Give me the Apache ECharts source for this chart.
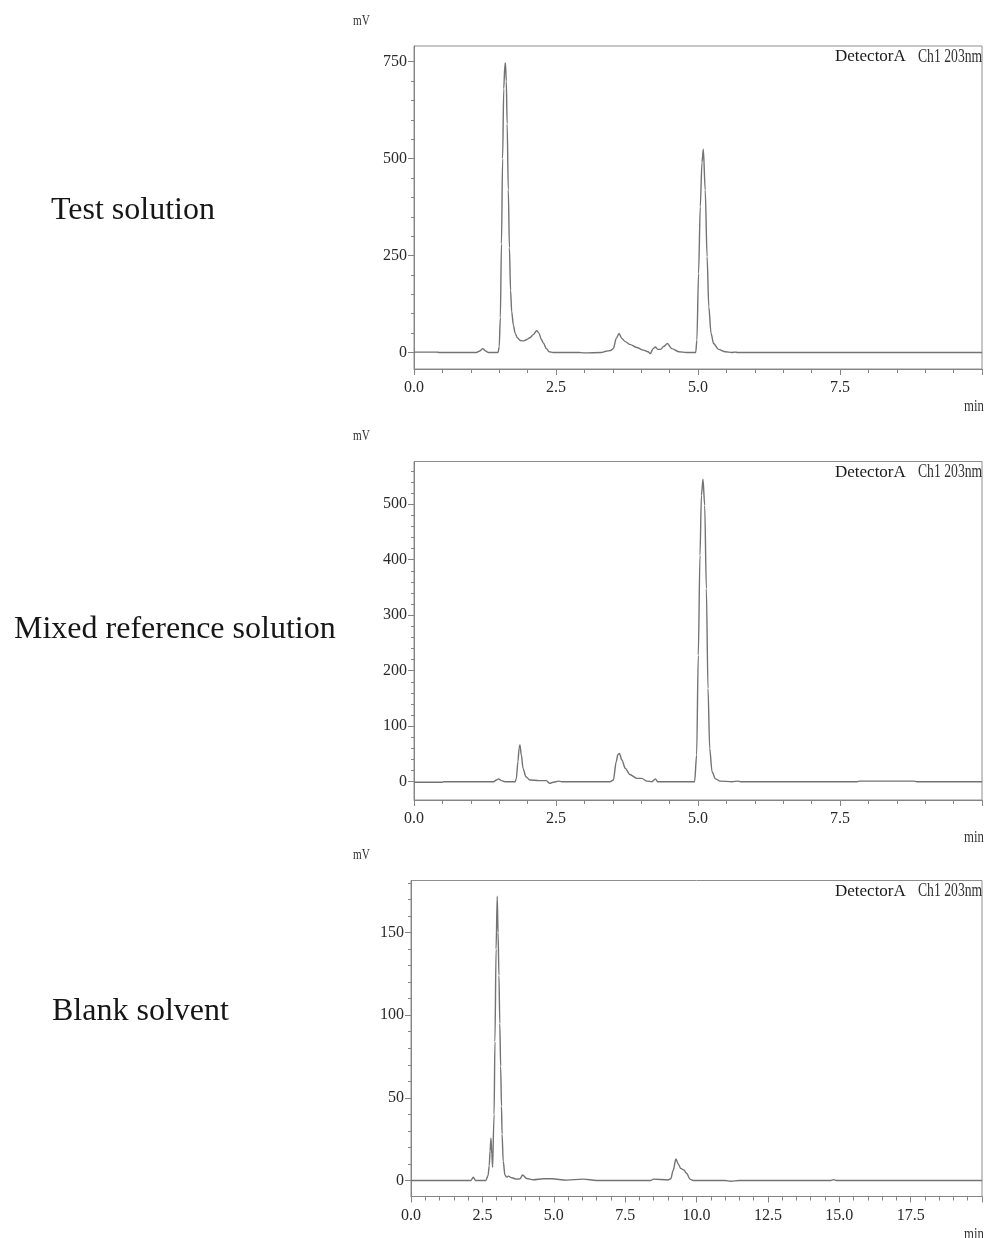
<!DOCTYPE html>
<html>
<head>
<meta charset="utf-8">
<script src="https://cdn.jsdelivr.net/npm/echarts@6/dist/echarts.min.js"></script>
<style>
  html, body { margin: 0; padding: 0; background: #fff; }
  #chart { width: 986px; height: 1238px; }
</style>
</head>
<body>
<div id="chart"></div>
<script>
// panel titles
var panelNames = ['Test solution', 'Mixed reference solution', 'Blank solvent'];

// chromatograms: [time (min), signal (mV)]
var testSolution = [
  [0, 1], [0.4, 1], [0.45, 0], [1.1, 0], [1.16, 4], [1.21, 10], [1.26, 4], [1.31, 0], [1.4, 0],
  [1.48, 0], [1.50, 15], [1.52, 90], [1.54, 280], [1.56, 500], [1.58, 680], [1.60, 742], [1.61, 747],
  [1.625, 700], [1.64, 590], [1.66, 420], [1.68, 270], [1.70, 160], [1.72, 105], [1.75, 70],
  [1.78, 50], [1.82, 38], [1.87, 31], [1.92, 30], [1.98, 33], [2.04, 38], [2.10, 46], [2.16, 56],
  [2.20, 50], [2.24, 34], [2.28, 24], [2.33, 10], [2.38, 2], [2.45, 0], [2.9, 0], [3.0, -1],
  [3.3, 0], [3.38, 3], [3.46, 5], [3.51, 10], [3.56, 36], [3.61, 49], [3.66, 36], [3.72, 28],
  [3.80, 21], [3.92, 13], [4.04, 6], [4.12, 2], [4.16, -3], [4.21, 10], [4.25, 14], [4.29, 8],
  [4.34, 8], [4.40, 16], [4.46, 23], [4.54, 10], [4.66, 2], [4.80, 0],
  [4.96, 0], [4.98, 32], [5.01, 204], [5.04, 376], [5.07, 490], [5.094, 524], [5.127, 419],
  [5.16, 247], [5.19, 118], [5.23, 49], [5.275, 23], [5.36, 8], [5.48, 2], [5.6, 0], [5.65, 1],
  [5.7, 0], [10, 0]
];

var mixedReference = [
  [0, -1], [0.5, -1], [0.52, 0], [1.40, 0], [1.45, 3], [1.49, 5], [1.54, 2], [1.6, 0], [1.78, 0],
  [1.80, 5], [1.83, 36], [1.85, 60], [1.865, 66], [1.89, 48], [1.92, 24], [1.97, 9], [2.04, 3],
  [2.2, 2], [2.33, 2], [2.39, -3], [2.45, -1], [2.5, 0], [2.55, 1], [2.6, 0], [3.45, 0],
  [3.51, 3], [3.56, 36], [3.59, 49], [3.617, 51], [3.66, 39], [3.72, 24], [3.80, 13], [3.92, 6],
  [4.01, 6], [4.10, 1], [4.19, 0], [4.25, 5], [4.29, 0], [4.94, 0], [4.976, 48], [5.005, 228],
  [5.035, 408], [5.06, 516], [5.088, 545], [5.118, 498], [5.147, 348], [5.176, 168], [5.206, 60],
  [5.247, 18], [5.306, 5], [5.39, 1], [5.6, 0], [5.7, 1], [5.75, 0], [7.8, 0], [7.85, 1],
  [8.8, 1], [8.85, 0], [10, 0]
];

var blankSolvent = [
  [0, 0], [2.1, 0], [2.18, 2], [2.26, 0], [2.62, 0], [2.70, 3], [2.74, 9], [2.77, 18], [2.80, 25.5],
  [2.83, 16], [2.86, 8], [2.88, 7.8], [2.91, 40], [2.94, 84], [2.98, 140], [3.02, 172], [3.05, 150],
  [3.08, 124], [3.11, 95], [3.14, 69], [3.17, 45], [3.19, 28], [3.23, 11.6], [3.29, 3.3], [3.35, 2],
  [3.41, 2.6], [3.53, 1.6], [3.7, 0.8], [3.82, 1], [3.91, 3.3], [4.05, 1.2], [4.28, 0.4], [4.64, 1],
  [4.93, 1], [5.45, 0.2], [6.03, 0.8], [6.5, 0], [8.4, 0], [8.49, 0.8], [9.0, 0.3], [9.1, 1],
  [9.18, 6], [9.28, 13], [9.36, 10], [9.45, 7.3], [9.56, 6.3], [9.66, 4.2], [9.77, 0.8], [9.89, 0],
  [11.0, 0], [11.2, -0.5], [11.5, 0], [14.7, 0], [14.8, 0.5], [14.9, 0], [20, 0]
];

// y tick labels of each panel
var yTicks1 = [0, 250, 500, 750];
var yTicks2 = [0, 100, 200, 300, 400, 500];
var yTicks3 = [0, 50, 100, 150];

var traces = [testSolution, mixedReference, blankSolvent];
var yTicks = [yTicks1, yTicks2, yTicks3];
var yMinorStep = [50, 20, 10];
var yRange = [[-42.6, 790.5], [-33, 577], [-9.7, 181.5]];
var xMax = [10, 10, 20];
var grids = [
  { left: 414, top: 46, width: 568, height: 323 },
  { left: 414, top: 461.5, width: 568, height: 338.5 },
  { left: 411, top: 880.5, width: 571, height: 316 }
];
var titleY = [211, 630, 1012];
var titleX = [51, 14, 52];

var lineGray = '#858585';
var tickFont = '"Liberation Serif", serif';

function steps(from, to, step) {
  var out = [];
  for (var v = from; v <= to + 1e-9; v += step) out.push(Math.round(v * 100) / 100);
  return out;
}

var myChart = echarts.init(document.getElementById('chart'));

var option = {
  backgroundColor: '#fff',
  animation: false,
  grid: [],
  xAxis: [],
  yAxis: [],
  series: [],
  graphic: { elements: [] }
};

for (var i = 0; i < 3; i++) {
  var g = grids[i];
  option.grid.push({
    left: g.left, top: g.top, width: g.width, height: g.height,
    show: true, borderColor: '#8f8f8f', borderWidth: 1, backgroundColor: 'transparent',
    outerBoundsMode: 'none', containLabel: false
  });

  option.xAxis.push({
    gridIndex: i,
    type: 'value',
    min: 0,
    max: xMax[i],
    interval: 2.5,
    axisLine: { onZero: false, lineStyle: { color: lineGray, width: 1 } },
    axisTick: { show: true, length: 6, lineStyle: { color: lineGray } },
    minorTick: { show: true, splitNumber: 5, length: 4, lineStyle: { color: lineGray } },
    splitLine: { show: false },
    axisLabel: {
      showMaxLabel: false,
      margin: 11,
      color: '#2a2a2a',
      fontFamily: tickFont,
      fontSize: 16,
      formatter: function (v) { return v.toFixed(1); }
    }
  });

  // major ticks and labels
  option.yAxis.push({
    gridIndex: i,
    type: 'value',
    min: yRange[i][0],
    max: yRange[i][1],
    axisLine: { show: true, onZero: false, lineStyle: { color: lineGray, width: 1 } },
    axisTick: { show: true, length: 6, customValues: yTicks[i], lineStyle: { color: lineGray } },
    splitLine: { show: false },
    axisLabel: {
      customValues: yTicks[i],
      margin: 7,
      color: '#2a2a2a',
      fontFamily: tickFont,
      fontSize: 16
    }
  });
  // minor ticks
  option.yAxis.push({
    gridIndex: i,
    type: 'value',
    position: 'left',
    min: yRange[i][0],
    max: yRange[i][1],
    axisLine: { show: false },
    axisTick: {
      show: true, length: 3,
      customValues: steps(0, yRange[i][1], yMinorStep[i]),
      lineStyle: { color: lineGray }
    },
    splitLine: { show: false },
    axisLabel: { show: false }
  });

  option.series.push({
    type: 'line',
    xAxisIndex: i,
    yAxisIndex: i * 2,
    data: traces[i],
    showSymbol: false,
    smooth: 0.3,
    smoothMonotone: 'x',
    lineStyle: { color: '#737373', width: 1.4 },
    silent: true
  });

  var gridTop = g.top;
  var gridBottom = g.top + g.height;
  option.graphic.elements.push(
    {
      type: 'text', id: 'title' + i, x: titleX[i], y: titleY[i],
      style: { text: panelNames[i], font: '32px "Liberation Serif", serif', fill: '#161616', align: 'left', verticalAlign: 'middle' }
    },
    {
      type: 'text', id: 'mv' + i, x: 353, y: gridTop - 25, scaleX: 0.8,
      style: { text: 'mV', font: '14px "Liberation Serif", serif', fill: '#333', align: 'left', verticalAlign: 'middle' }
    },
    {
      type: 'text', id: 'min' + i, x: 984, y: gridBottom + 38, scaleX: 0.8,
      style: { text: 'min', font: '16px "Liberation Serif", serif', fill: '#333', align: 'right', verticalAlign: 'middle' }
    },
    {
      type: 'text', id: 'det' + i, x: 835, y: gridTop + 11,
      style: { text: 'DetectorA', font: '17px "Liberation Serif", serif', fill: '#1a1a1a', align: 'left', verticalAlign: 'middle' }
    },
    {
      type: 'text', id: 'ch' + i, x: 918, y: gridTop + 11, scaleX: 0.72,
      style: { text: 'Ch1 203nm', font: '19px "Liberation Serif", serif', fill: '#333', align: 'left', verticalAlign: 'middle' }
    }
  );
}

myChart.setOption(option);
</script>
</body>
</html>
